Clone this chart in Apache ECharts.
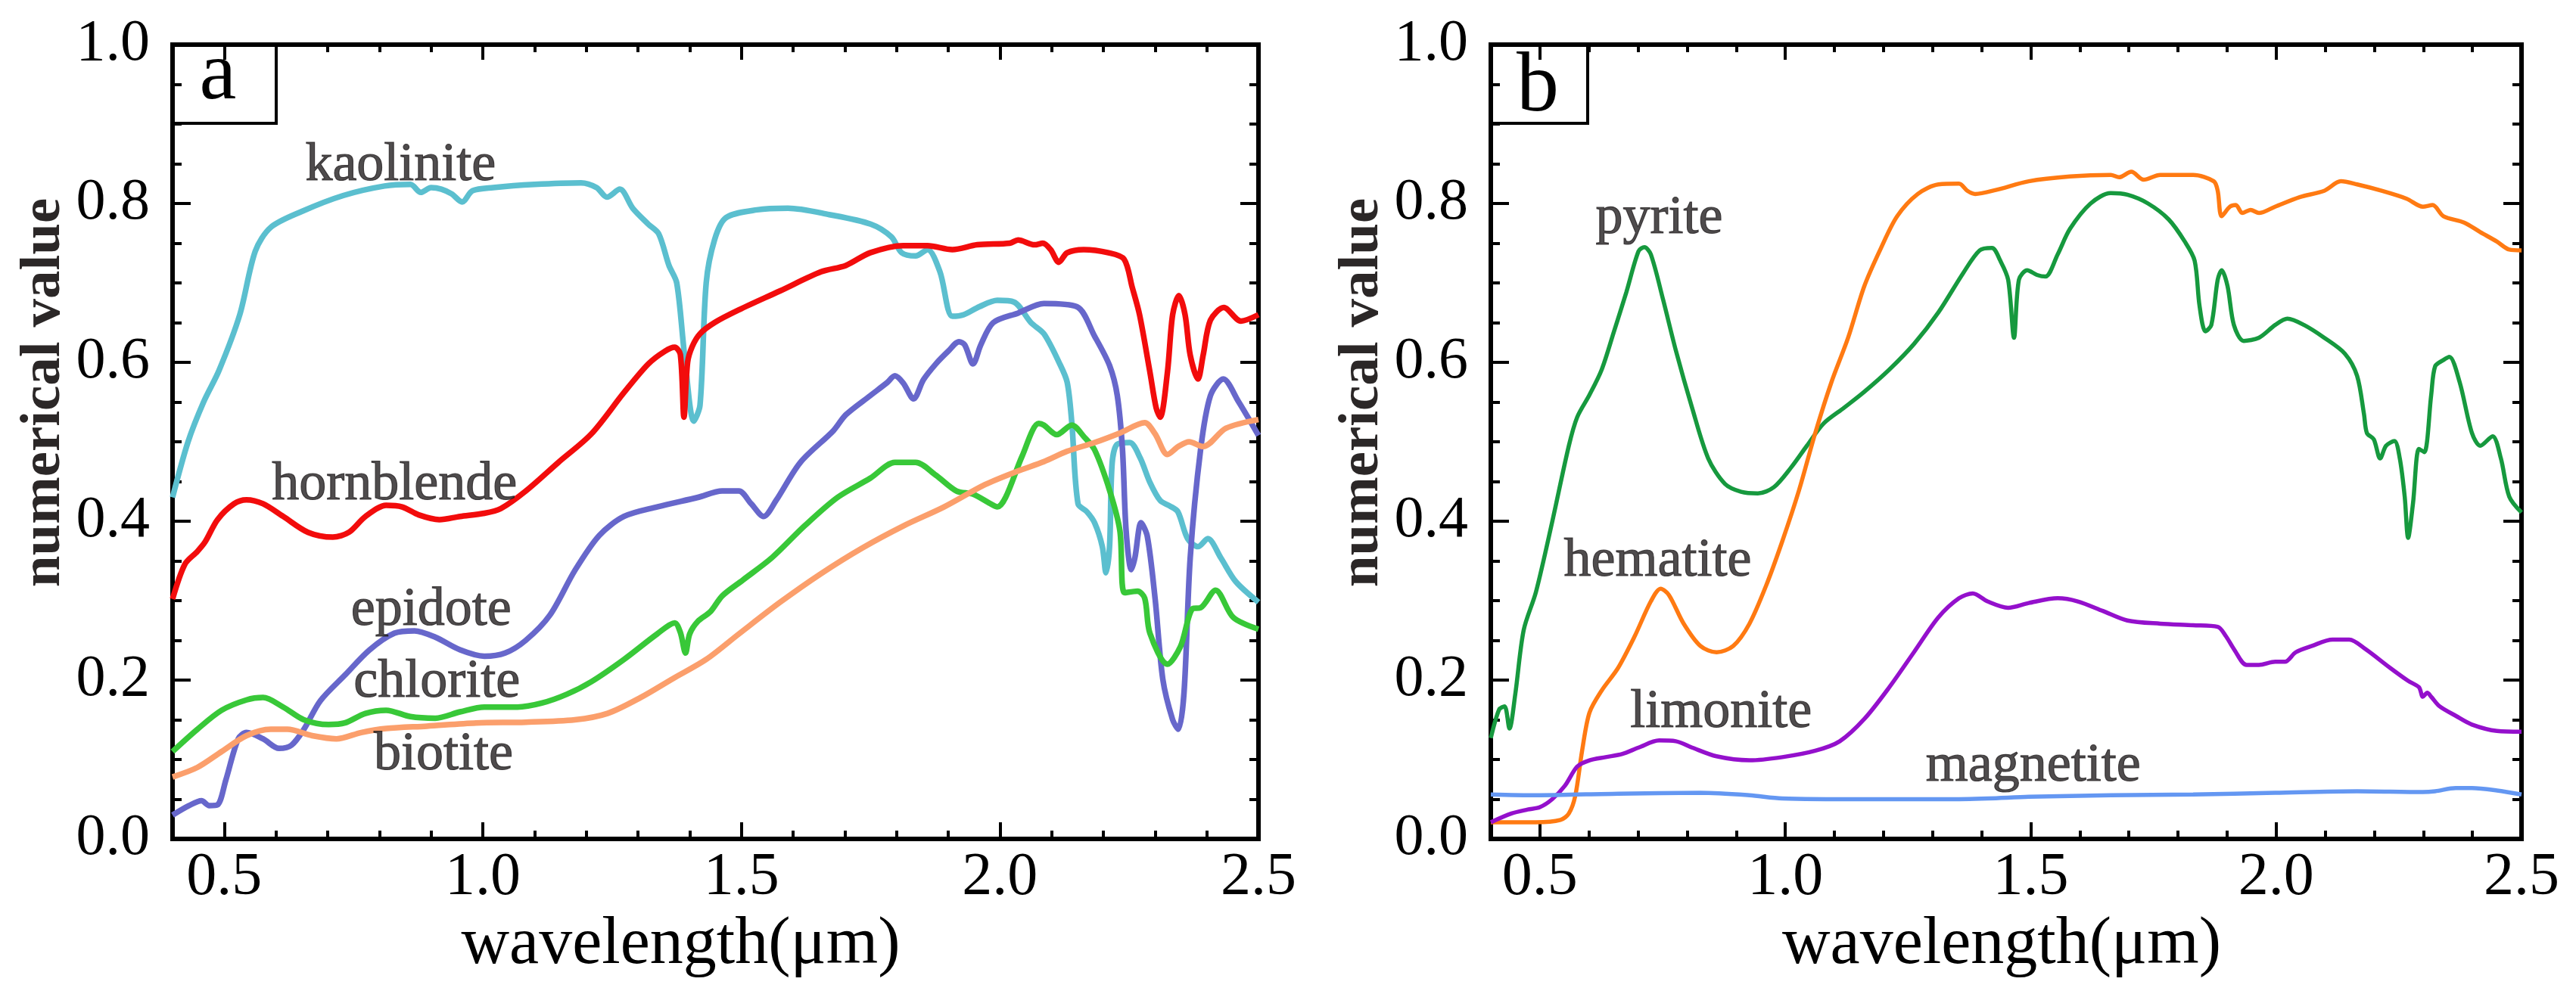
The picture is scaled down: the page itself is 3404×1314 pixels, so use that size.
<!DOCTYPE html>
<html lang="en">
<head>
<meta charset="UTF-8">
<title>spectra</title>
<script src="https://cdn.jsdelivr.net/npm/echarts@6/dist/echarts.min.js"></script>
<style>
    html, body { margin: 0; padding: 0; background: #fff; }
    #main { width: 3404px; height: 1314px; }
</style>
</head>
<body>
<div id="main"></div>
<script>
    // panel a: [wavelength, value]
    var kaolinite = [[0.40,0.43],[0.43,0.50],[0.46,0.55],[0.49,0.59],[0.53,0.66],[0.56,0.74],[0.59,0.77],[0.65,0.79],[0.73,0.81],[0.81,0.822],[0.86,0.824],[0.88,0.814],[0.90,0.82],[0.92,0.818],[0.94,0.812],[0.96,0.802],[0.98,0.816],[1.02,0.82],[1.10,0.824],[1.19,0.826],[1.22,0.82],[1.24,0.808],[1.265,0.818],[1.29,0.794],[1.32,0.774],[1.34,0.762],[1.36,0.722],[1.375,0.70],[1.39,0.61],[1.408,0.526],[1.42,0.546],[1.432,0.70],[1.448,0.754],[1.47,0.782],[1.53,0.792],[1.59,0.794],[1.67,0.786],[1.75,0.774],[1.79,0.758],[1.81,0.738],[1.837,0.734],[1.86,0.742],[1.884,0.714],[1.908,0.658],[1.93,0.66],[1.96,0.67],[1.995,0.678],[2.027,0.676],[2.06,0.65],[2.085,0.636],[2.115,0.599],[2.13,0.575],[2.139,0.524],[2.151,0.422],[2.168,0.412],[2.183,0.398],[2.198,0.368],[2.205,0.335],[2.212,0.368],[2.217,0.473],[2.227,0.497],[2.251,0.499],[2.271,0.48],[2.29,0.449],[2.31,0.426],[2.329,0.419],[2.344,0.412],[2.363,0.378],[2.383,0.368],[2.402,0.378],[2.427,0.354],[2.456,0.324],[2.5,0.298]];
    var hornblende = [[0.40,0.302],[0.424,0.346],[0.448,0.362],[0.463,0.374],[0.487,0.402],[0.519,0.422],[0.543,0.427],[0.575,0.422],[0.614,0.406],[0.662,0.386],[0.71,0.38],[0.741,0.386],[0.773,0.406],[0.813,0.42],[0.844,0.418],[0.876,0.408],[0.916,0.402],[0.956,0.406],[1.003,0.41],[1.035,0.416],[1.083,0.438],[1.146,0.474],[1.21,0.51],[1.273,0.562],[1.32,0.598],[1.352,0.614],[1.371,0.619],[1.382,0.61],[1.389,0.531],[1.396,0.60],[1.405,0.62],[1.42,0.636],[1.448,0.65],[1.495,0.666],[1.575,0.69],[1.654,0.714],[1.702,0.722],[1.749,0.738],[1.813,0.747],[1.86,0.747],[1.908,0.742],[1.956,0.748],[2.019,0.75],[2.035,0.754],[2.067,0.748],[2.083,0.75],[2.098,0.742],[2.114,0.726],[2.13,0.738],[2.162,0.742],[2.21,0.738],[2.24,0.73],[2.256,0.694],[2.27,0.66],[2.29,0.588],[2.302,0.543],[2.31,0.531],[2.324,0.588],[2.334,0.66],[2.346,0.684],[2.358,0.66],[2.368,0.609],[2.383,0.579],[2.393,0.609],[2.407,0.653],[2.433,0.669],[2.466,0.652],[2.5,0.66]];
    var epidote = [[0.40,0.03],[0.432,0.042],[0.456,0.048],[0.471,0.042],[0.487,0.043],[0.503,0.074],[0.527,0.126],[0.543,0.134],[0.575,0.126],[0.606,0.114],[0.63,0.118],[0.654,0.138],[0.686,0.174],[0.733,0.206],[0.781,0.238],[0.829,0.259],[0.868,0.262],[0.908,0.254],[0.956,0.238],[1.003,0.23],[1.043,0.234],[1.083,0.25],[1.13,0.282],[1.178,0.338],[1.225,0.382],[1.273,0.406],[1.337,0.418],[1.416,0.43],[1.463,0.438],[1.495,0.438],[1.519,0.422],[1.543,0.406],[1.567,0.426],[1.614,0.474],[1.678,0.514],[1.702,0.534],[1.749,0.558],[1.781,0.574],[1.797,0.583],[1.813,0.574],[1.833,0.554],[1.852,0.578],[1.876,0.598],[1.90,0.614],[1.921,0.626],[1.932,0.622],[1.948,0.598],[1.963,0.622],[1.987,0.65],[2.035,0.662],[2.085,0.674],[2.149,0.67],[2.183,0.633],[2.212,0.596],[2.227,0.558],[2.237,0.49],[2.244,0.388],[2.254,0.339],[2.261,0.354],[2.273,0.398],[2.285,0.381],[2.30,0.303],[2.315,0.201],[2.334,0.15],[2.345,0.138],[2.356,0.184],[2.368,0.354],[2.388,0.49],[2.407,0.558],[2.432,0.579],[2.461,0.551],[2.5,0.508]];
    var chlorite = [[0.40,0.11],[0.448,0.138],[0.495,0.162],[0.543,0.175],[0.575,0.178],[0.614,0.166],[0.654,0.15],[0.702,0.144],[0.733,0.146],[0.773,0.158],[0.813,0.162],[0.86,0.154],[0.908,0.152],[0.956,0.16],[1.003,0.166],[1.067,0.166],[1.114,0.171],[1.162,0.182],[1.21,0.198],[1.273,0.226],[1.337,0.258],[1.371,0.272],[1.382,0.26],[1.392,0.234],[1.40,0.258],[1.416,0.274],[1.44,0.286],[1.463,0.306],[1.503,0.326],[1.559,0.354],[1.622,0.394],[1.686,0.43],[1.749,0.454],[1.797,0.474],[1.837,0.474],[1.876,0.458],[1.916,0.438],[1.948,0.434],[1.979,0.423],[1.995,0.418],[2.011,0.43],[2.043,0.482],[2.075,0.523],[2.085,0.521],[2.11,0.509],[2.139,0.521],[2.163,0.506],[2.183,0.49],[2.212,0.439],[2.232,0.388],[2.241,0.31],[2.266,0.312],[2.28,0.303],[2.29,0.259],[2.324,0.22],[2.349,0.242],[2.373,0.29],[2.388,0.291],[2.417,0.313],[2.451,0.279],[2.5,0.264]];
    var biotite = [[0.40,0.078],[0.448,0.09],[0.495,0.11],[0.543,0.13],[0.59,0.138],[0.622,0.138],[0.67,0.13],[0.717,0.126],[0.765,0.134],[0.813,0.139],[0.892,0.142],[0.987,0.146],[1.083,0.147],[1.178,0.15],[1.241,0.158],[1.305,0.178],[1.368,0.202],[1.432,0.226],[1.495,0.258],[1.575,0.298],[1.654,0.334],[1.733,0.366],[1.813,0.394],[1.892,0.418],[1.971,0.446],[2.03,0.462],[2.085,0.475],[2.13,0.488],[2.183,0.499],[2.232,0.511],[2.28,0.524],[2.30,0.51],[2.324,0.484],[2.345,0.494],[2.366,0.50],[2.393,0.494],[2.437,0.517],[2.5,0.528]];

    // panel b
    var pyrite = [[0.40,0.127],[0.417,0.163],[0.428,0.167],[0.438,0.139],[0.45,0.183],[0.467,0.263],[0.492,0.311],[0.525,0.399],[0.559,0.495],[0.576,0.531],[0.601,0.559],[0.626,0.591],[0.651,0.639],[0.676,0.688],[0.701,0.74],[0.713,0.745],[0.726,0.736],[0.751,0.679],[0.777,0.615],[0.81,0.543],[0.843,0.479],[0.877,0.447],[0.91,0.437],[0.944,0.435],[0.977,0.443],[1.011,0.467],[1.044,0.495],[1.078,0.523],[1.12,0.543],[1.161,0.563],[1.212,0.591],[1.262,0.623],[1.312,0.663],[1.362,0.712],[1.396,0.741],[1.421,0.744],[1.438,0.728],[1.454,0.704],[1.466,0.631],[1.476,0.704],[1.493,0.716],[1.513,0.71],[1.53,0.708],[1.555,0.736],[1.58,0.768],[1.622,0.80],[1.663,0.813],[1.697,0.811],[1.739,0.80],[1.781,0.78],[1.814,0.752],[1.834,0.728],[1.844,0.671],[1.856,0.639],[1.868,0.647],[1.881,0.704],[1.889,0.716],[1.901,0.696],[1.914,0.647],[1.934,0.627],[1.965,0.631],[1.998,0.647],[2.023,0.655],[2.057,0.647],[2.098,0.631],[2.14,0.611],[2.165,0.583],[2.179,0.535],[2.185,0.511],[2.199,0.503],[2.212,0.479],[2.224,0.495],[2.241,0.501],[2.252,0.479],[2.262,0.431],[2.269,0.379],[2.279,0.423],[2.291,0.491],[2.302,0.487],[2.316,0.559],[2.324,0.595],[2.341,0.603],[2.353,0.607],[2.374,0.575],[2.399,0.511],[2.416,0.495],[2.441,0.507],[2.458,0.479],[2.475,0.431],[2.5,0.411]];
    var hematite = [[0.40,0.021],[0.442,0.021],[0.492,0.021],[0.542,0.024],[0.559,0.032],[0.572,0.054],[0.586,0.111],[0.601,0.159],[0.626,0.187],[0.659,0.215],[0.693,0.255],[0.726,0.299],[0.746,0.315],[0.763,0.307],[0.793,0.271],[0.827,0.243],[0.86,0.235],[0.894,0.243],[0.927,0.271],[0.961,0.319],[0.994,0.375],[1.028,0.439],[1.061,0.511],[1.094,0.575],[1.128,0.631],[1.161,0.696],[1.195,0.744],[1.228,0.784],[1.27,0.812],[1.312,0.824],[1.354,0.825],[1.371,0.816],[1.387,0.812],[1.429,0.817],[1.496,0.828],[1.58,0.834],[1.663,0.836],[1.68,0.833],[1.705,0.84],[1.73,0.83],[1.764,0.836],[1.831,0.836],[1.873,0.828],[1.881,0.816],[1.889,0.784],[1.906,0.796],[1.918,0.798],[1.931,0.788],[1.948,0.792],[1.965,0.788],[1.998,0.796],[2.048,0.808],[2.098,0.816],[2.132,0.828],[2.165,0.824],[2.215,0.816],[2.266,0.806],[2.299,0.796],[2.319,0.798],[2.341,0.784],[2.383,0.776],[2.416,0.764],[2.45,0.752],[2.475,0.742],[2.5,0.741]];
    var limonite = [[0.40,0.021],[0.442,0.032],[0.475,0.037],[0.50,0.04],[0.525,0.05],[0.551,0.067],[0.576,0.091],[0.601,0.099],[0.634,0.103],[0.668,0.107],[0.701,0.115],[0.743,0.124],[0.777,0.123],[0.81,0.115],[0.86,0.104],[0.927,0.099],[0.994,0.103],[1.061,0.111],[1.111,0.123],[1.161,0.151],[1.212,0.191],[1.262,0.235],[1.312,0.279],[1.354,0.303],[1.382,0.309],[1.412,0.299],[1.454,0.291],[1.496,0.297],[1.555,0.303],[1.596,0.299],[1.647,0.287],[1.697,0.275],[1.764,0.271],[1.831,0.269],[1.881,0.267],[1.898,0.255],[1.914,0.239],[1.94,0.219],[1.965,0.219],[1.998,0.223],[2.018,0.223],[2.04,0.235],[2.073,0.243],[2.115,0.251],[2.149,0.251],[2.182,0.239],[2.233,0.215],[2.269,0.199],[2.291,0.191],[2.299,0.179],[2.308,0.184],[2.316,0.179],[2.333,0.167],[2.366,0.155],[2.399,0.144],[2.45,0.136],[2.5,0.135]];
    var magnetite = [[0.40,0.056],[0.492,0.055],[0.659,0.057],[0.827,0.058],[0.927,0.055],[0.994,0.051],[1.161,0.05],[1.329,0.05],[1.413,0.051],[1.496,0.053],[1.663,0.055],[1.831,0.056],[1.998,0.058],[2.165,0.06],[2.299,0.059],[2.324,0.06],[2.366,0.064],[2.399,0.064],[2.45,0.061],[2.5,0.056]];

    var xTicks = [0.5, 1.0, 1.5, 2.0, 2.5];

    // curve captions: name + anchor in data units
    var namesA = ['kaolinite', 'hornblende', 'epidote', 'chlorite', 'biotite'];
    var spotsA = [[0.841, 0.848], [0.829, 0.446], [0.90, 0.288], [0.911, 0.197], [0.924, 0.106]];
    var namesB = ['pyrite', 'hematite', 'limonite', 'magnetite'];
    var spotsB = [[0.743, 0.781], [0.74, 0.349], [0.869, 0.159], [1.505, 0.091]];

    var FONT = '"Liberation Serif", "Times New Roman", serif';
    var myChart = echarts.init(document.getElementById('main'));

    var tickStyle = {color: '#000', width: 4};

    // shiftLeft moves the axis title to the left (panel a is off-centre)
    function xAxes(gi, shiftLeft) {
        return [{
            gridIndex: gi, type: 'value', position: 'bottom', min: 0.4, max: 2.5,
            name: 'wavelength(μm)', nameLocation: 'middle', nameGap: 92,
            nameTextStyle: {fontFamily: FONT, fontSize: 88, color: '#000', padding: [0, shiftLeft * 2, 0, 0]},
            axisLine: {show: false, onZero: false},
            splitLine: {show: false},
            axisTick: {inside: true, length: 22, customValues: xTicks, lineStyle: tickStyle},
            minorTick: {show: true, splitNumber: 5, length: 11, lineStyle: tickStyle},
            axisLabel: {customValues: xTicks, margin: 12, fontFamily: FONT, fontSize: 80, color: '#000',
                formatter: function (v) { return v.toFixed(1); }}
        }, {
            gridIndex: gi, type: 'value', position: 'top', min: 0.4, max: 2.5,
            axisLine: {show: false, onZero: false},
            splitLine: {show: false},
            axisTick: {inside: true, length: 20, customValues: xTicks, lineStyle: tickStyle},
            minorTick: {show: true, splitNumber: 5, length: 10, lineStyle: tickStyle},
            axisLabel: {show: false}
        }];
    }

    function yAxes(gi) {
        return [{
            gridIndex: gi, type: 'value', position: 'left', min: 0, max: 1, interval: 0.2,
            name: 'numerical value', nameLocation: 'middle', nameGap: 120,
            nameTextStyle: {fontFamily: FONT, fontSize: 75, fontWeight: 'bold', color: '#2b2727', padding: [0, 0, 0, 130]},
            axisLine: {show: false, onZero: false},
            splitLine: {show: false},
            axisTick: {inside: true, length: 24, lineStyle: tickStyle},
            minorTick: {show: true, splitNumber: 4, length: 12, lineStyle: tickStyle},
            axisLabel: {margin: 30, fontFamily: FONT, fontSize: 78, color: '#000',
                formatter: function (v) { return v.toFixed(1); }}
        }, {
            gridIndex: gi, type: 'value', position: 'right', min: 0, max: 1, interval: 0.2,
            axisLine: {show: false, onZero: false},
            splitLine: {show: false},
            axisTick: {inside: true, length: 24, lineStyle: tickStyle},
            minorTick: {show: true, splitNumber: 4, length: 12, lineStyle: tickStyle},
            axisLabel: {show: false}
        }];
    }

    function curve(name, data, color, width, gi) {
        return {
            name: name, type: 'line', data: data,
            xAxisIndex: gi * 2, yAxisIndex: gi * 2,
            showSymbol: false, smooth: 0.3, clip: true,
            lineStyle: {color: color, width: width},
            itemStyle: {color: color}
        };
    }

    function captions(names, spots, gi) {
        var pts = [];
        for (var i = 0; i < names.length; i++) {
            pts.push({value: spots[i], name: names[i]});
        }
        return {
            type: 'scatter', data: pts, xAxisIndex: gi * 2, yAxisIndex: gi * 2,
            symbolSize: 1, itemStyle: {color: 'rgba(0,0,0,0)'}, z: 5,
            label: {show: true, position: 'inside', formatter: '{b}',
                fontFamily: FONT, fontSize: 72, color: '#231f20',
                textBorderColor: '#231f20', textBorderWidth: 1.2}
        };
    }

    var option = {
        animation: false,
        backgroundColor: '#fff',
        grid: [
            {left: 228, top: 59, width: 1435, height: 1050, show: true, borderColor: '#000', borderWidth: 6},
            {left: 1970, top: 59, width: 1362, height: 1050, show: true, borderColor: '#000', borderWidth: 6}
        ],
        xAxis: xAxes(0, 46).concat(xAxes(1, 6)),
        yAxis: yAxes(0).concat(yAxes(1)),
        series: [
            curve('kaolinite', kaolinite, '#5bbfcf', 7.5, 0),
            curve('hornblende', hornblende, '#f20c0c', 7.5, 0),
            curve('epidote', epidote, '#6767cb', 7.5, 0),
            curve('chlorite', chlorite, '#38c838', 7.5, 0),
            curve('biotite', biotite, '#fb9f6c', 7.5, 0),
            captions(namesA, spotsA, 0),
            curve('pyrite', pyrite, '#16993e', 5.5, 1),
            curve('hematite', hematite, '#ff7a12', 5.5, 1),
            curve('limonite', limonite, '#9410cc', 5.5, 1),
            curve('magnetite', magnetite, '#6497f2', 5.5, 1),
            captions(namesB, spotsB, 1)
        ],
        graphic: [
            {type: 'rect', shape: {x: 228, y: 59, width: 137, height: 104},
                style: {fill: null, stroke: '#000', lineWidth: 4}, z: 10},
            {type: 'text', x: 288, y: 101,
                style: {text: 'a', fontFamily: 'Liberation Serif', fontSize: 110, fill: '#000',
                    align: 'center', verticalAlign: 'middle', textAlign: 'center', textVerticalAlign: 'middle'}, z: 10},
            {type: 'rect', shape: {x: 1970, y: 59, width: 128, height: 104},
                style: {fill: null, stroke: '#000', lineWidth: 4}, z: 10},
            {type: 'text', x: 2032, y: 117,
                style: {text: 'b', fontFamily: 'Liberation Serif', fontSize: 112, fill: '#000',
                    align: 'center', verticalAlign: 'middle', textAlign: 'center', textVerticalAlign: 'middle'}, z: 10}
        ]
    };

    myChart.setOption(option);
</script>
</body>
</html>
